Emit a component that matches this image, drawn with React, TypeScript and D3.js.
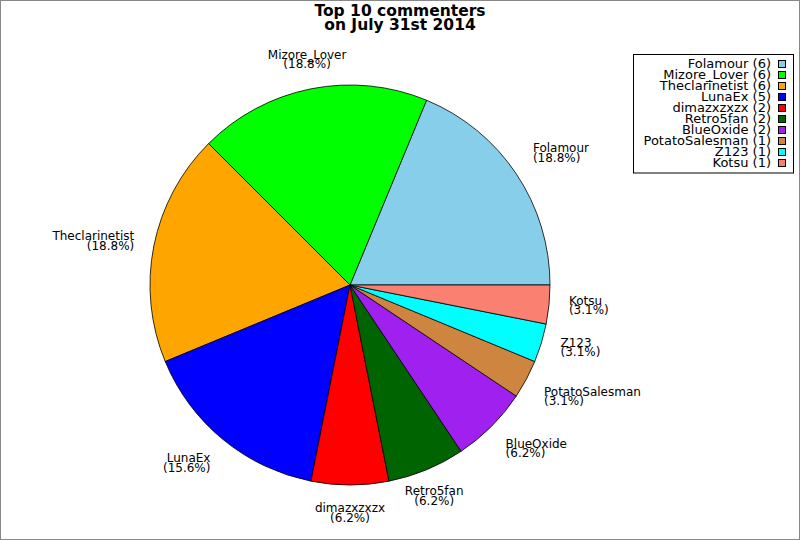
import * as d3 from 'd3';
import React, { ReactElement, useEffect, useRef } from 'react';

const WIDTH = 800;
const HEIGHT = 540;

const names = [
  'Folamour',
  'Mizore_Lover',
  'Theclarinetist',
  'LunaEx',
  'dimazxzxzx',
  'Retro5fan',
  'BlueOxide',
  'PotatoSalesman',
  'Z123',
  'Kotsu',
];
const counts = [6, 6, 6, 5, 2, 2, 2, 1, 1, 1];
const percents = ['18.8%', '18.8%', '18.8%', '15.6%', '6.2%', '6.2%', '6.2%', '3.1%', '3.1%', '3.1%'];
const colors = [
  '#87ceeb', // skyblue
  '#00ff00',
  '#ffa500',
  '#0000ff',
  '#ff0000',
  '#006400',
  '#a020f0',
  '#cd853f',
  '#00ffff',
  '#fa8072',
];
const titleLines = ['Top 10 commenters', 'on July 31st 2014'];

const FONT = '"DejaVu Sans", sans-serif';

const App = (): ReactElement => {
  const ref = useRef(null);

  useEffect(() => {
    const root = d3.select(ref.current);
    root.selectAll('*').remove();

    const svg = root
      .append('svg')
      .attr('width', WIDTH)
      .attr('height', HEIGHT)
      .style('position', 'absolute')
      .style('left', '0px')
      .style('top', '0px')
      .style('background', '#fff');

    // frame
    svg
      .append('rect')
      .attr('x', 0.5)
      .attr('y', 0.5)
      .attr('width', WIDTH - 1)
      .attr('height', HEIGHT - 1)
      .attr('fill', 'none')
      .attr('stroke', '#888');

    // title
    svg
      .append('g')
      .selectAll('text')
      .data(titleLines)
      .enter()
      .append('text')
      .attr('x', 400)
      .attr('y', (d, i) => 15.5 + i * 14)
      .attr('text-anchor', 'middle')
      .attr('font-family', FONT)
      .attr('font-weight', 'bold')
      .attr('font-size', '15.5px')
      .text((d) => d);

    const cx = 350;
    const cy = 285;
    const radius = 200;

    // counterclockwise from 3 o'clock
    const pie = d3
      .pie<number>()
      .sort(null)
      .startAngle(Math.PI / 2)
      .endAngle(Math.PI / 2 - Math.PI * 2);
    const arcs = pie(counts);

    const arc = d3.arc<any>().innerRadius(0).outerRadius(radius);

    const g = svg.append('g').attr('transform', `translate(${cx},${cy})`);

    g.selectAll('path')
      .data(arcs)
      .enter()
      .append('path')
      .attr('d', arc)
      .attr('fill', (d, i) => colors[i])
      .attr('stroke', '#000')
      .attr('stroke-width', 0.8)
      .attr('stroke-linejoin', 'round');

    // labels
    const labelR = radius * 1.1;
    arcs.forEach((d, i) => {
      const a = (d.startAngle + d.endAngle) / 2;
      const cosM = Math.sin(a);
      const sinM = Math.cos(a);
      const x0 = labelR * cosM;
      const y0 = -labelR * sinM;
      const anchor = Math.abs(cosM) < 0.5 ? 'middle' : cosM > 0 ? 'start' : 'end';
      let b1 = y0 - 2;
      if (sinM > 0.4) b1 = y0 - 10.5;
      else if (sinM < -0.4) b1 = y0 + 7;
      const t = g
        .append('text')
        .attr('text-anchor', anchor)
        .attr('font-family', FONT)
        .attr('font-size', '12px')
        .attr('fill', '#000');
      t.append('tspan').attr('x', x0).attr('y', b1).text(names[i]);
      t.append('tspan')
        .attr('x', x0)
        .attr('y', b1 + 9.5)
        .text(`(${percents[i]})`);
    });

    // legend
    const legend = svg.append('g');
    legend
      .append('rect')
      .attr('x', 633.5)
      .attr('y', 54.5)
      .attr('width', 160)
      .attr('height', 118.5)
      .attr('fill', '#fff')
      .attr('stroke', '#000');

    const rows = legend
      .selectAll('g.row')
      .data(names)
      .enter()
      .append('g')
      .attr('class', 'row')
      .attr('transform', (d, i) => `translate(0, ${68 + i * 11})`);

    rows
      .append('text')
      .attr('x', 771)
      .attr('y', 0)
      .attr('text-anchor', 'end')
      .attr('font-family', FONT)
      .attr('font-size', '13px')
      .text((d, i) => `${d} (${counts[i]})`);

    rows
      .append('rect')
      .attr('x', 778.5)
      .attr('y', -7.5)
      .attr('width', 7)
      .attr('height', 7)
      .attr('fill', (d, i) => colors[i])
      .attr('stroke', '#000');

    return () => {
      root.selectAll('*').remove();
    };
  }, []);

  return <div ref={ref}></div>;
};

export default App;
